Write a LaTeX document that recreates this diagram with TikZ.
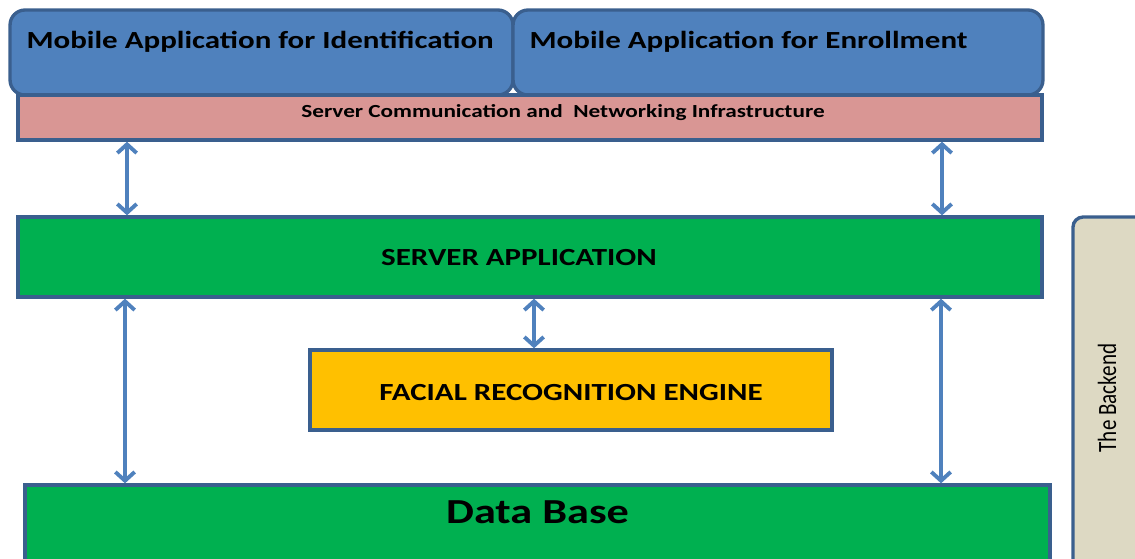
\documentclass[tikz,border=0pt]{standalone}
\usepackage{fontspec}
\setmainfont{Carlito}
\newfontfamily\widefont[FakeStretch=1.26]{Carlito}
\usetikzlibrary{arrows.meta, positioning}

\definecolor{appblue}{HTML}{4F81BD}
\definecolor{edgeblue}{HTML}{3A5F8E}
\definecolor{netpink}{HTML}{D99694}
\definecolor{srvgreen}{HTML}{00B050}
\definecolor{engorange}{HTML}{FFC000}
\definecolor{backtan}{HTML}{DDD9C3}

\begin{document}
\begin{tikzpicture}[x=0.02cm, y=0.02cm,
    appbox/.style={draw=edgeblue, line width=1.9pt, fill=appblue, rounded corners=0.3cm},
    layerbox/.style={draw=edgeblue, line width=1.9pt},
    boldtxt/.style={font=\widefont\bfseries\fontsize{14}{16}\selectfont},
    link/.style={{Straight Barb[length=5pt,width=11pt]}-{Straight Barb[length=5pt,width=11pt]}, draw=appblue, line width=2.2pt}]
    \useasboundingbox (0,0) rectangle (1135,-558);

    \node[appbox, minimum width=10.06cm, minimum height=1.7cm,
        label={[boldtxt, anchor=north west, xshift=0.24cm, yshift=-0.34cm]north west:Mobile Application for Identification}] (MA_Id) at (261.5,-52.5) {};
    \node[appbox, minimum width=10.6cm, minimum height=1.7cm,
        label={[boldtxt, anchor=north west, xshift=0.24cm, yshift=-0.34cm]north west:Mobile Application for Enrollment}] (MA_En) at (778,-52.5) {};
    \node[layerbox, fill=netpink, minimum width=20.48cm, minimum height=0.9cm,
        label={[font=\widefont\bfseries\fontsize{10.5}{12}\selectfont, xshift=0.66cm, yshift=0.1cm]center:Server Communication and~~Networking Infrastructure}] (Net) at (530,-117.5) {};
    \node[layerbox, fill=srvgreen, minimum width=20.48cm, minimum height=1.6cm,
        label={[boldtxt, xshift=-0.22cm, yshift=-0.02cm]center:SERVER APPLICATION}] (Srv) at (530,-257) {};
    \node[layerbox, fill=engorange, minimum width=10.44cm, minimum height=1.6cm,
        label={[boldtxt, yshift=-0.05cm]center:FACIAL RECOGNITION ENGINE}] (FRE) at (571,-390) {};
    \node[layerbox, fill=srvgreen, minimum width=20.5cm, minimum height=2.3cm,
        label={[font=\widefont\bfseries\fontsize{20}{24}\selectfont, anchor=center, yshift=-0.58cm]north:Data Base}] (DB) at (537.5,-542.5) {};
    \node[layerbox, fill=backtan, rounded corners=0.2cm, minimum width=1.44cm, minimum height=7.2cm] (Back) at (1109,-397) {};
    \node[rotate=90, font=\fontsize{12}{14}\selectfont] (Back_T) at (1107,-398) {\scalebox{1}[1.25]{The Backend}};

    % connector positions
    \coordinate (L1) at (127,0);
    \coordinate (R1) at (942,0);
    \coordinate (M1) at (534,0);
    \coordinate (L2) at (125,0);
    \coordinate (R2) at (941,0);

    \draw[link] (Net.south -| L1) -- (Srv.north -| L1);
    \draw[link] (Net.south -| R1) -- (Srv.north -| R1);
    \draw[link] (Srv.south -| M1) -- (FRE.north -| M1);
    \draw[link] (Srv.south -| L2) -- (DB.north -| L2);
    \draw[link] (Srv.south -| R2) -- (DB.north -| R2);
\end{tikzpicture}
\end{document}
